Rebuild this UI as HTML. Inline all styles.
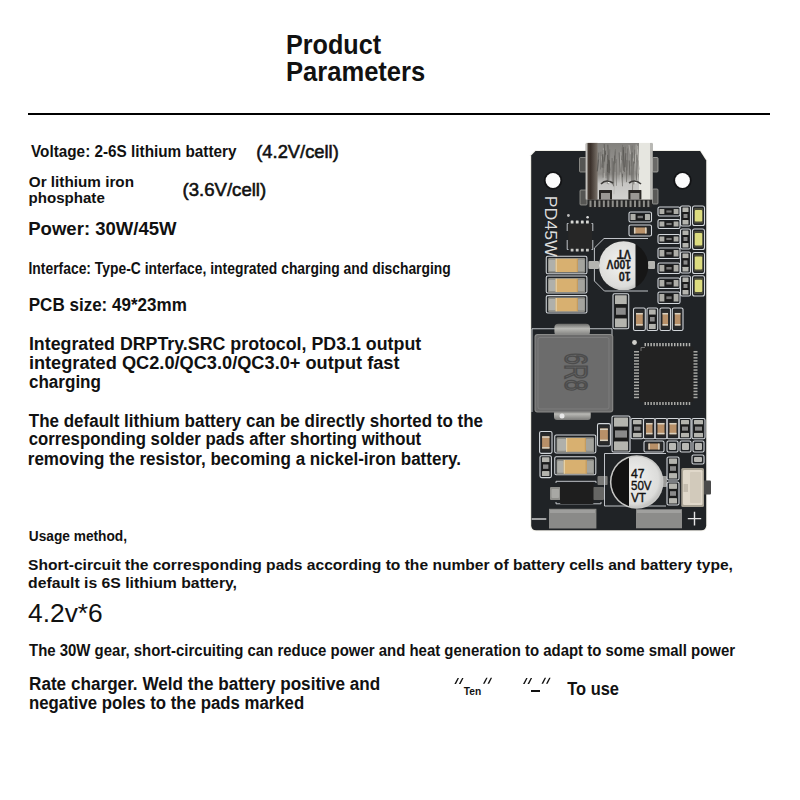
<!DOCTYPE html>
<html><head><meta charset="utf-8"><style>
html,body{margin:0;padding:0;background:#fff;width:800px;height:800px;overflow:hidden}
svg{display:block}
</style></head><body>
<svg width="800" height="800" viewBox="0 0 800 800" font-family="Liberation Sans">
<rect width="800" height="800" fill="#fff"/>
<rect x="28" y="113" width="742" height="2" fill="#000"/>
<g id="texts">
<text x="286.00" y="53.6" font-size="26.8" font-weight="bold" textLength="95.00" lengthAdjust="spacingAndGlyphs" fill="#111">Product</text>
<text x="286.00" y="81" font-size="26.8" font-weight="bold" textLength="139.25" lengthAdjust="spacingAndGlyphs" fill="#111">Parameters</text>
<text x="31.00" y="156.5" font-size="16.5" font-weight="bold" textLength="205.50" lengthAdjust="spacingAndGlyphs" fill="#111">Voltage: 2-6S lithium battery</text>
<text x="256.25" y="157.5" font-size="17.9" font-weight="normal" stroke="#111" stroke-width="0.55" textLength="82.55" lengthAdjust="spacingAndGlyphs" fill="#111">(4.2V/cell)</text>
<text x="28.75" y="186.5" font-size="15.4" font-weight="bold" textLength="105.25" lengthAdjust="spacingAndGlyphs" fill="#111">Or lithium iron</text>
<text x="28.50" y="203.25" font-size="15.2" font-weight="bold" textLength="76.30" lengthAdjust="spacingAndGlyphs" fill="#111">phosphate</text>
<text x="182.50" y="195.75" font-size="17.6" font-weight="normal" stroke="#111" stroke-width="0.55" textLength="83.70" lengthAdjust="spacingAndGlyphs" fill="#111">(3.6V/cell)</text>
<text x="28.25" y="234.5" font-size="18.4" font-weight="bold" textLength="148.35" lengthAdjust="spacingAndGlyphs" fill="#111">Power: 30W/45W</text>
<text x="28.50" y="273.5" font-size="15.6" font-weight="bold" textLength="422.30" lengthAdjust="spacingAndGlyphs" fill="#111">Interface: Type-C interface, integrated charging and discharging</text>
<text x="28.75" y="311.25" font-size="18.3" font-weight="bold" textLength="158.05" lengthAdjust="spacingAndGlyphs" fill="#111">PCB size: 49*23mm</text>
<text x="28.90" y="349.75" font-size="18.7" font-weight="bold" textLength="392.30" lengthAdjust="spacingAndGlyphs" fill="#111">Integrated DRPTry.SRC protocol, PD3.1 output</text>
<text x="28.90" y="369" font-size="18.7" font-weight="bold" textLength="370.60" lengthAdjust="spacingAndGlyphs" fill="#111">integrated QC2.0/QC3.0/QC3.0+ output fast</text>
<text x="28.90" y="387.8" font-size="18.7" font-weight="bold" textLength="72.10" lengthAdjust="spacingAndGlyphs" fill="#111">charging</text>
<text x="28.75" y="426.5" font-size="18.7" font-weight="bold" textLength="454.25" lengthAdjust="spacingAndGlyphs" fill="#111">The default lithium battery can be directly shorted to the</text>
<text x="28.75" y="445.2" font-size="18.7" font-weight="bold" textLength="392.45" lengthAdjust="spacingAndGlyphs" fill="#111">corresponding solder pads after shorting without</text>
<text x="27.75" y="464.6" font-size="18.7" font-weight="bold" textLength="433.25" lengthAdjust="spacingAndGlyphs" fill="#111">removing the resistor, becoming a nickel-iron battery.</text>
<text x="28.75" y="540.5" font-size="14.9" font-weight="bold" textLength="98.25" lengthAdjust="spacingAndGlyphs" fill="#111">Usage method,</text>
<text x="28.00" y="570.25" font-size="15.5" font-weight="bold" textLength="704.90" lengthAdjust="spacingAndGlyphs" fill="#111">Short-circuit the corresponding pads according to the number of battery cells and battery type,</text>
<text x="28.00" y="587.5" font-size="15.5" font-weight="bold" textLength="209.00" lengthAdjust="spacingAndGlyphs" fill="#111">default is 6S lithium battery,</text>
<text x="28.00" y="621.75" font-size="26.6" font-weight="normal" textLength="74.75" lengthAdjust="spacingAndGlyphs" fill="#111">4.2v*6</text>
<text x="29.00" y="656.25" font-size="16.1" font-weight="bold" textLength="706.10" lengthAdjust="spacingAndGlyphs" fill="#111">The 30W gear, short-circuiting can reduce power and heat generation to adapt to some small power</text>
<text x="29.00" y="689.75" font-size="18.0" font-weight="bold" textLength="351.20" lengthAdjust="spacingAndGlyphs" fill="#111">Rate charger. Weld the battery positive and</text>
<text x="29.00" y="708.75" font-size="18.0" font-weight="bold" textLength="275.20" lengthAdjust="spacingAndGlyphs" fill="#111">negative poles to the pads marked</text>
<text x="463.80" y="694.8" font-size="10.5" font-weight="bold" textLength="17.40" lengthAdjust="spacingAndGlyphs" fill="#111">Ten</text>
<text x="567.25" y="695" font-size="18.3" font-weight="bold" textLength="51.75" lengthAdjust="spacingAndGlyphs" fill="#111">To use</text>
<path d="M457.6,678 L459.0,678 L456.0,684 L454.4,684 Z M462.1,678 L463.5,678 L460.5,684 L458.9,684 Z " fill="#111"/>
<path d="M486.2,677.8 L487.6,677.8 L484.6,683.8 L483.0,683.8 Z M490.7,677.8 L492.1,677.8 L489.1,683.8 L487.5,683.8 Z " fill="#111"/>
<path d="M526.2,678 L527.6,678 L524.6,684 L523.0,684 Z M530.7,678 L532.1,678 L529.1,684 L527.5,684 Z " fill="#111"/>
<path d="M544.7,677.8 L546.1,677.8 L543.1,683.8 L541.5,683.8 Z M549.2,677.8 L550.6,677.8 L547.6,683.8 L546.0,683.8 Z " fill="#111"/>
<rect x="531" y="690" width="9" height="2" fill="#111"/>
</g>
<g id="pcb">
<defs><linearGradient id="usbg" x1="0" y1="0" x2="1" y2="0"><stop offset="0" stop-color="#3a3330"/><stop offset="0.17" stop-color="#5a5250"/><stop offset="0.22" stop-color="#8e8c88"/><stop offset="0.75" stop-color="#a8a8a4"/><stop offset="0.82" stop-color="#e6e6e0"/><stop offset="1" stop-color="#d0d0cc"/></linearGradient><linearGradient id="usbv" x1="0" y1="0" x2="0" y2="1"><stop offset="0" stop-color="#000000" stop-opacity="0.08"/><stop offset="0.55" stop-color="#ffffff" stop-opacity="0.0"/><stop offset="0.72" stop-color="#ffffff" stop-opacity="0.5"/><stop offset="1" stop-color="#ffffff" stop-opacity="0.6"/></linearGradient><linearGradient id="usbl" x1="0" y1="0" x2="1" y2="0"><stop offset="0" stop-color="#4a3e36"/><stop offset="0.3" stop-color="#3a302a"/><stop offset="1" stop-color="#7a726a"/></linearGradient><linearGradient id="indg" x1="0" y1="0" x2="1" y2="1"><stop offset="0" stop-color="#8a8a88"/><stop offset="1" stop-color="#6c6c6a"/></linearGradient><radialGradient id="capg" cx="0.45" cy="0.45" r="0.6"><stop offset="0" stop-color="#f2f2f0"/><stop offset="0.8" stop-color="#dcdcda"/><stop offset="1" stop-color="#b8b8b6"/></radialGradient><linearGradient id="termg" x1="0" y1="0" x2="0" y2="1"><stop offset="0" stop-color="#6a6a68"/><stop offset="0.4" stop-color="#b8b8b4"/><stop offset="1" stop-color="#7a7a78"/></linearGradient></defs>
<path d="M530,155.2 L535,150 L700.6,150 L707.2,160.2 L707.2,525 Q707.2,531.3 701,531.3 L536.2,531.3 Q530,531.3 530,525 Z" fill="#f2f1ea"/>
<path d="M531.2,155.5 L535.5,151 L700.1,151 L706.2,160.6 L706.2,525.3 Q706.2,530.3 701.2,530.3 L536.2,530.3 Q531.2,530.3 531.2,525.3 Z" fill="#202326"/>
<circle cx="553" cy="180.5" r="9.2" fill="#121315"/>
<circle cx="553" cy="180.5" r="7.4" fill="#fbfbfb"/>
<circle cx="682.5" cy="180.5" r="9.2" fill="#121315"/>
<circle cx="682.5" cy="180.5" r="7.4" fill="#fbfbfb"/>
<text x="0" y="0" font-family="Liberation Sans" font-weight="normal" font-size="17" fill="#dcdcdc" transform="translate(544.6,195.8) rotate(90)" textLength="61" lengthAdjust="spacingAndGlyphs">PD45W</text>
<rect x="579.50" y="157.50" width="7.00" height="14.50" rx="1" fill="#555553" stroke="#9a9a96" stroke-width="0.8"/>
<rect x="580.00" y="190.00" width="7.00" height="15.00" rx="1" fill="#555553" stroke="#9a9a96" stroke-width="0.8"/>
<rect x="652.50" y="157.50" width="5.50" height="14.50" rx="1" fill="#6a6a68" stroke="#b0b0ac" stroke-width="0.8"/>
<rect x="652.50" y="189.00" width="5.50" height="15.00" rx="1" fill="#5a5a58" stroke="#a0a09c" stroke-width="0.8"/>
<rect x="588.00" y="199.00" width="64.00" height="8.50" rx="0" fill="#262626" />
<rect x="589.50" y="200.50" width="2.00" height="6.50" rx="0" fill="#8e8e8a" />
<rect x="593.95" y="200.50" width="2.00" height="6.50" rx="0" fill="#8e8e8a" />
<rect x="598.40" y="200.50" width="2.00" height="6.50" rx="0" fill="#8e8e8a" />
<rect x="602.85" y="200.50" width="2.00" height="6.50" rx="0" fill="#8e8e8a" />
<rect x="607.30" y="200.50" width="2.00" height="6.50" rx="0" fill="#8e8e8a" />
<rect x="611.75" y="200.50" width="2.00" height="6.50" rx="0" fill="#8e8e8a" />
<rect x="616.20" y="200.50" width="2.00" height="6.50" rx="0" fill="#8e8e8a" />
<rect x="620.65" y="200.50" width="2.00" height="6.50" rx="0" fill="#8e8e8a" />
<rect x="625.10" y="200.50" width="2.00" height="6.50" rx="0" fill="#8e8e8a" />
<rect x="629.55" y="200.50" width="2.00" height="6.50" rx="0" fill="#8e8e8a" />
<rect x="634.00" y="200.50" width="2.00" height="6.50" rx="0" fill="#8e8e8a" />
<rect x="638.45" y="200.50" width="2.00" height="6.50" rx="0" fill="#8e8e8a" />
<rect x="642.90" y="200.50" width="2.00" height="6.50" rx="0" fill="#8e8e8a" />
<rect x="647.35" y="200.50" width="2.00" height="6.50" rx="0" fill="#8e8e8a" />
<rect x="585.70" y="142.90" width="66.90" height="56.60" rx="1.5" fill="#8e8c88" />
<rect x="585.70" y="142.90" width="1.90" height="56.60" rx="0" fill="#c2c0bc" />
<rect x="587.6" y="142.9" width="10" height="56.6" fill="url(#usbl)"/>
<rect x="639.00" y="142.90" width="11.50" height="56.60" rx="0" fill="#e6e6e0" />
<rect x="650.50" y="142.90" width="2.10" height="56.60" rx="0" fill="#b8b8b4" />
<rect x="597.6" y="142.9" width="41.4" height="56.6" fill="url(#usbv)"/>
<line x1="607.5" y1="154.9" x2="607.4" y2="172.1" stroke="#4e4c48" stroke-width="1" opacity="0.6"/>
<line x1="621.2" y1="156.1" x2="620.5" y2="186.8" stroke="#c8c6c0" stroke-width="1" opacity="0.6"/>
<line x1="607.4" y1="163.9" x2="607.3" y2="183.7" stroke="#4e4c48" stroke-width="1" opacity="0.6"/>
<line x1="623.6" y1="147.0" x2="623.2" y2="170.9" stroke="#4e4c48" stroke-width="1" opacity="0.6"/>
<line x1="598.6" y1="159.5" x2="597.2" y2="171.5" stroke="#4e4c48" stroke-width="1" opacity="0.6"/>
<line x1="629.2" y1="160.5" x2="629.9" y2="175.2" stroke="#4e4c48" stroke-width="1" opacity="0.6"/>
<line x1="633.2" y1="158.3" x2="633.8" y2="189.3" stroke="#c8c6c0" stroke-width="1" opacity="0.6"/>
<line x1="621.1" y1="163.3" x2="619.9" y2="174.6" stroke="#6a6864" stroke-width="1" opacity="0.6"/>
<line x1="603.4" y1="148.3" x2="604.3" y2="180.5" stroke="#c8c6c0" stroke-width="1" opacity="0.6"/>
<line x1="632.2" y1="152.4" x2="631.8" y2="181.3" stroke="#4e4c48" stroke-width="1" opacity="0.6"/>
<line x1="621.4" y1="155.7" x2="622.5" y2="186.3" stroke="#5a5854" stroke-width="1" opacity="0.6"/>
<line x1="637.6" y1="157.4" x2="639.0" y2="169.5" stroke="#6a6864" stroke-width="1" opacity="0.6"/>
<line x1="634.2" y1="155.4" x2="634.6" y2="181.2" stroke="#b4b2ae" stroke-width="1" opacity="0.6"/>
<line x1="637.5" y1="149.3" x2="638.6" y2="160.5" stroke="#c8c6c0" stroke-width="1" opacity="0.6"/>
<line x1="637.6" y1="145.8" x2="638.8" y2="173.8" stroke="#c8c6c0" stroke-width="1" opacity="0.6"/>
<line x1="598.8" y1="152.5" x2="597.4" y2="170.9" stroke="#5a5854" stroke-width="1" opacity="0.6"/>
<line x1="622.6" y1="144.9" x2="622.7" y2="170.9" stroke="#6a6864" stroke-width="1" opacity="0.6"/>
<line x1="634.9" y1="149.6" x2="634.3" y2="163.5" stroke="#5a5854" stroke-width="1" opacity="0.6"/>
<line x1="601.1" y1="156.0" x2="602.5" y2="164.8" stroke="#b4b2ae" stroke-width="1" opacity="0.6"/>
<line x1="609.7" y1="149.3" x2="609.1" y2="174.5" stroke="#6a6864" stroke-width="1" opacity="0.6"/>
<line x1="636.3" y1="161.9" x2="637.5" y2="179.4" stroke="#c8c6c0" stroke-width="1" opacity="0.6"/>
<line x1="613.4" y1="161.3" x2="613.8" y2="186.4" stroke="#5a5854" stroke-width="1" opacity="0.6"/>
<line x1="635.6" y1="154.1" x2="636.9" y2="172.9" stroke="#b4b2ae" stroke-width="1" opacity="0.6"/>
<line x1="615.5" y1="149.2" x2="614.0" y2="164.7" stroke="#6a6864" stroke-width="1" opacity="0.6"/>
<line x1="614.6" y1="155.6" x2="614.9" y2="164.1" stroke="#4e4c48" stroke-width="1" opacity="0.6"/>
<line x1="603.3" y1="156.7" x2="603.9" y2="173.0" stroke="#6a6864" stroke-width="1" opacity="0.6"/>
<line x1="612.1" y1="158.1" x2="612.4" y2="184.6" stroke="#5a5854" stroke-width="1" opacity="0.6"/>
<line x1="636.2" y1="144.4" x2="635.6" y2="161.7" stroke="#c8c6c0" stroke-width="1" opacity="0.6"/>
<line x1="622.1" y1="147.5" x2="623.1" y2="160.2" stroke="#6a6864" stroke-width="1" opacity="0.6"/>
<line x1="608.6" y1="159.7" x2="610.0" y2="170.4" stroke="#5a5854" stroke-width="1" opacity="0.6"/>
<line x1="625.3" y1="146.6" x2="624.6" y2="167.1" stroke="#6a6864" stroke-width="1" opacity="0.6"/>
<line x1="605.5" y1="152.7" x2="605.8" y2="178.2" stroke="#5a5854" stroke-width="1" opacity="0.6"/>
<line x1="636.0" y1="157.5" x2="634.7" y2="171.1" stroke="#b4b2ae" stroke-width="1" opacity="0.6"/>
<line x1="627.7" y1="148.4" x2="626.9" y2="170.6" stroke="#6a6864" stroke-width="1" opacity="0.6"/>
<line x1="602.8" y1="154.6" x2="601.9" y2="167.4" stroke="#4e4c48" stroke-width="1" opacity="0.6"/>
<line x1="609.1" y1="160.1" x2="608.7" y2="184.2" stroke="#4e4c48" stroke-width="1" opacity="0.6"/>
<line x1="603.2" y1="149.8" x2="603.1" y2="177.7" stroke="#6a6864" stroke-width="1" opacity="0.6"/>
<line x1="623.4" y1="149.8" x2="624.6" y2="172.0" stroke="#5a5854" stroke-width="1" opacity="0.6"/>
<line x1="604.2" y1="144.1" x2="605.7" y2="175.7" stroke="#4e4c48" stroke-width="1" opacity="0.6"/>
<line x1="615.4" y1="163.0" x2="614.0" y2="194.2" stroke="#b4b2ae" stroke-width="1" opacity="0.6"/>
<line x1="616.3" y1="159.1" x2="616.4" y2="185.8" stroke="#6a6864" stroke-width="1" opacity="0.6"/>
<line x1="633.6" y1="161.2" x2="632.4" y2="190.7" stroke="#6a6864" stroke-width="1" opacity="0.6"/>
<line x1="607.8" y1="144.7" x2="609.1" y2="172.8" stroke="#4e4c48" stroke-width="1" opacity="0.6"/>
<line x1="633.9" y1="162.0" x2="633.8" y2="184.4" stroke="#5a5854" stroke-width="1" opacity="0.6"/>
<line x1="602.8" y1="154.1" x2="602.9" y2="168.0" stroke="#5a5854" stroke-width="1" opacity="0.6"/>
<line x1="614.6" y1="162.8" x2="613.4" y2="186.1" stroke="#6a6864" stroke-width="1" opacity="0.6"/>
<line x1="636.9" y1="154.8" x2="636.4" y2="183.1" stroke="#5a5854" stroke-width="1" opacity="0.6"/>
<line x1="605.9" y1="154.7" x2="605.1" y2="183.1" stroke="#b4b2ae" stroke-width="1" opacity="0.6"/>
<line x1="609.0" y1="161.8" x2="608.9" y2="173.0" stroke="#5a5854" stroke-width="1" opacity="0.6"/>
<line x1="620.8" y1="152.0" x2="620.1" y2="178.9" stroke="#b4b2ae" stroke-width="1" opacity="0.6"/>
<line x1="619.1" y1="152.5" x2="620.2" y2="172.3" stroke="#5a5854" stroke-width="1" opacity="0.6"/>
<line x1="629.0" y1="144.9" x2="630.4" y2="154.2" stroke="#c8c6c0" stroke-width="1" opacity="0.6"/>
<line x1="632.2" y1="145.7" x2="631.1" y2="166.3" stroke="#6a6864" stroke-width="1" opacity="0.6"/>
<line x1="600.9" y1="151.7" x2="600.5" y2="169.5" stroke="#6a6864" stroke-width="1" opacity="0.6"/>
<line x1="605.6" y1="150.6" x2="604.2" y2="161.7" stroke="#4e4c48" stroke-width="1" opacity="0.6"/>
<line x1="626.9" y1="159.9" x2="626.5" y2="182.1" stroke="#5a5854" stroke-width="1" opacity="0.6"/>
<line x1="622.2" y1="159.7" x2="622.5" y2="177.2" stroke="#5a5854" stroke-width="1" opacity="0.6"/>
<line x1="615.3" y1="151.4" x2="615.0" y2="171.9" stroke="#6a6864" stroke-width="1" opacity="0.6"/>
<line x1="625.8" y1="153.2" x2="625.1" y2="167.3" stroke="#4e4c48" stroke-width="1" opacity="0.6"/>
<line x1="621.6" y1="160.1" x2="622.7" y2="173.7" stroke="#b4b2ae" stroke-width="1" opacity="0.6"/>
<rect x="599.00" y="190.00" width="13.00" height="9.50" rx="0.5" fill="#2a2826" />
<rect x="628.40" y="190.00" width="13.00" height="9.50" rx="0.5" fill="#2a2826" />
<rect x="601.00" y="193.00" width="9.00" height="6.50" rx="0" fill="#9a9894" />
<rect x="630.40" y="193.00" width="9.00" height="6.50" rx="0" fill="#9a9894" />
<circle cx="609" cy="182" r="1.4" fill="#f4f4f0"/><circle cx="636" cy="182" r="1.4" fill="#f4f4f0"/>
<path d="M601,184 Q606,178.5 613,183 M629,183 Q635,178.5 641,184" stroke="#3e3c3a" stroke-width="1.6" fill="none"/>
<rect x="570.70" y="220.50" width="2.80" height="3.50" rx="0.5" fill="#d8d8d4" />
<rect x="570.70" y="248.00" width="2.80" height="3.50" rx="0.5" fill="#c8c8c4" />
<rect x="575.80" y="220.50" width="2.80" height="3.50" rx="0.5" fill="#d8d8d4" />
<rect x="575.80" y="248.00" width="2.80" height="3.50" rx="0.5" fill="#c8c8c4" />
<rect x="580.90" y="220.50" width="2.80" height="3.50" rx="0.5" fill="#d8d8d4" />
<rect x="580.90" y="248.00" width="2.80" height="3.50" rx="0.5" fill="#c8c8c4" />
<rect x="586.00" y="220.50" width="2.80" height="3.50" rx="0.5" fill="#d8d8d4" />
<rect x="586.00" y="248.00" width="2.80" height="3.50" rx="0.5" fill="#c8c8c4" />
<rect x="568.20" y="223.50" width="23.80" height="25.30" rx="1" fill="#262626" />
<path d="M567.2,231 L567.2,223.5 L568.5,223.5 M567.2,240 L567.2,249.5 L568.5,249.5 M592.8,231 L592.8,223.5 L591.5,223.5 M592.8,240 L592.8,249.5 L591.5,249.5" stroke="#d2d6da" stroke-width="0.9" fill="none"/>
<circle cx="568.4" cy="215.5" r="1.4" fill="#bbb"/><circle cx="587.6" cy="217.3" r="1.3" fill="#ddd"/>
<rect x="629.00" y="212.00" width="22.50" height="10.00" rx="1.6" fill="none" stroke="#d2d6da" stroke-width="1.1"/>
<rect x="630.50" y="214.00" width="5.25" height="6.00" rx="0.6" fill="#aeaea8" />
<rect x="644.75" y="214.00" width="5.25" height="6.00" rx="0.6" fill="#aeaea8" />
<rect x="635.75" y="214.00" width="9.00" height="6.00" rx="0" fill="#1a1a1a" />
<rect x="637.55" y="215.80" width="5.40" height="2.40" rx="0" fill="#777" />
<rect x="629.00" y="225.00" width="22.50" height="11.00" rx="1.6" fill="none" stroke="#d2d6da" stroke-width="1.1"/>
<rect x="631.00" y="226.50" width="18.50" height="8.00" rx="1" fill="#2a2a2a" />
<rect x="633.95" y="227.50" width="12.60" height="6.00" rx="0.6" fill="#b89068" />
<rect x="633.95" y="227.50" width="1.50" height="6.00" rx="0" fill="#d8d0c0" />
<rect x="645.05" y="227.50" width="1.50" height="6.00" rx="0" fill="#d8d0c0" />
<path d="M648,238.5 L604,238.5 L594.4,248 L594.4,281 L604.4,291 L648,291" fill="none" stroke="#d2d6da" stroke-width="0.9"/>
<rect x="588.50" y="261.00" width="10.50" height="8.00" rx="1" fill="#b4b4b0" />
<rect x="648.00" y="261.00" width="7.00" height="8.00" rx="1" fill="#b4b4b0" />
<circle cx="623.6" cy="265.75" r="24.6" fill="#161616"/>
<clipPath id="c1"><rect x="590" y="230" width="45.5" height="70"/></clipPath>
<circle cx="623.6" cy="265.75" r="24.6" fill="url(#capg)" clip-path="url(#c1)"/>
<g transform="translate(620,265.5) rotate(180)" font-family="Liberation Sans" font-weight="bold" fill="#1a1a1a" stroke="#1a1a1a" stroke-width="0.3" font-size="13"><text x="-10.7" y="-6.2" textLength="12" lengthAdjust="spacingAndGlyphs">10</text><text x="-11" y="5.5" textLength="24.4" lengthAdjust="spacingAndGlyphs">100V</text><text x="-11" y="15.5" textLength="14" lengthAdjust="spacingAndGlyphs">VT</text></g>
<rect x="658.00" y="207.00" width="22.00" height="9.00" rx="1.6" fill="none" stroke="#d2d6da" stroke-width="1.1"/>
<rect x="659.50" y="209.00" width="5.10" height="5.00" rx="0.6" fill="#aeaea8" />
<rect x="673.40" y="209.00" width="5.10" height="5.00" rx="0.6" fill="#aeaea8" />
<rect x="664.60" y="209.00" width="8.80" height="5.00" rx="0" fill="#1a1a1a" />
<rect x="666.36" y="210.42" width="5.28" height="2.16" rx="0" fill="#777" />
<rect x="658.00" y="219.50" width="22.00" height="9.00" rx="1.6" fill="none" stroke="#d2d6da" stroke-width="1.1"/>
<rect x="659.50" y="221.50" width="5.10" height="5.00" rx="0.6" fill="#aeaea8" />
<rect x="673.40" y="221.50" width="5.10" height="5.00" rx="0.6" fill="#aeaea8" />
<rect x="664.60" y="221.50" width="8.80" height="5.00" rx="0" fill="#1a1a1a" />
<rect x="666.36" y="222.92" width="5.28" height="2.16" rx="0" fill="#777" />
<rect x="658.00" y="234.50" width="22.00" height="9.00" rx="1.6" fill="none" stroke="#d2d6da" stroke-width="1.1"/>
<rect x="659.50" y="236.50" width="5.10" height="5.00" rx="0.6" fill="#aeaea8" />
<rect x="673.40" y="236.50" width="5.10" height="5.00" rx="0.6" fill="#aeaea8" />
<rect x="664.60" y="236.50" width="8.80" height="5.00" rx="0" fill="#1a1a1a" />
<rect x="666.36" y="237.92" width="5.28" height="2.16" rx="0" fill="#777" />
<rect x="658.00" y="248.00" width="22.00" height="10.50" rx="1.6" fill="none" stroke="#d2d6da" stroke-width="1.1"/>
<rect x="659.50" y="250.00" width="5.10" height="6.50" rx="0.6" fill="#aeaea8" />
<rect x="673.40" y="250.00" width="5.10" height="6.50" rx="0.6" fill="#aeaea8" />
<rect x="664.60" y="250.00" width="8.80" height="6.50" rx="0" fill="#1a1a1a" />
<rect x="666.36" y="251.99" width="5.28" height="2.52" rx="0" fill="#777" />
<rect x="658.00" y="263.00" width="22.00" height="10.50" rx="1.6" fill="none" stroke="#d2d6da" stroke-width="1.1"/>
<rect x="659.50" y="265.00" width="5.10" height="6.50" rx="0.6" fill="#aeaea8" />
<rect x="673.40" y="265.00" width="5.10" height="6.50" rx="0.6" fill="#aeaea8" />
<rect x="664.60" y="265.00" width="8.80" height="6.50" rx="0" fill="#1a1a1a" />
<rect x="666.36" y="266.99" width="5.28" height="2.52" rx="0" fill="#777" />
<rect x="658.00" y="278.00" width="22.00" height="10.50" rx="1.6" fill="none" stroke="#d2d6da" stroke-width="1.1"/>
<rect x="659.50" y="280.00" width="5.10" height="6.50" rx="0.6" fill="#aeaea8" />
<rect x="673.40" y="280.00" width="5.10" height="6.50" rx="0.6" fill="#aeaea8" />
<rect x="664.60" y="280.00" width="8.80" height="6.50" rx="0" fill="#1a1a1a" />
<rect x="666.36" y="281.99" width="5.28" height="2.52" rx="0" fill="#777" />
<rect x="658.00" y="292.00" width="22.00" height="11.50" rx="1.6" fill="none" stroke="#d2d6da" stroke-width="1.1"/>
<rect x="659.50" y="294.00" width="5.10" height="7.50" rx="0.6" fill="#aeaea8" />
<rect x="673.40" y="294.00" width="5.10" height="7.50" rx="0.6" fill="#aeaea8" />
<rect x="664.60" y="294.00" width="8.80" height="7.50" rx="0" fill="#1a1a1a" />
<rect x="666.36" y="296.37" width="5.28" height="2.76" rx="0" fill="#777" />
<rect x="680.50" y="206.00" width="10.00" height="20.00" rx="1.6" fill="none" stroke="#d2d6da" stroke-width="1.1"/>
<rect x="682.50" y="207.50" width="6.00" height="4.50" rx="0.6" fill="#b4b4ae" />
<rect x="682.50" y="220.00" width="6.00" height="4.50" rx="0.6" fill="#b4b4ae" />
<rect x="682.50" y="212.00" width="6.00" height="8.00" rx="0" fill="#1a1a1a" />
<rect x="683.50" y="214.00" width="4.00" height="4.00" rx="0" fill="#8a8a8a" />
<rect x="680.50" y="229.00" width="10.00" height="20.00" rx="1.6" fill="none" stroke="#d2d6da" stroke-width="1.1"/>
<rect x="682.50" y="230.50" width="6.00" height="4.50" rx="0.6" fill="#b4b4ae" />
<rect x="682.50" y="243.00" width="6.00" height="4.50" rx="0.6" fill="#b4b4ae" />
<rect x="682.50" y="235.00" width="6.00" height="8.00" rx="0" fill="#1a1a1a" />
<rect x="683.50" y="237.00" width="4.00" height="4.00" rx="0" fill="#8a8a8a" />
<rect x="680.50" y="252.00" width="10.00" height="21.00" rx="1.6" fill="none" stroke="#d2d6da" stroke-width="1.1"/>
<rect x="682.50" y="253.50" width="6.00" height="4.80" rx="0.6" fill="#b4b4ae" />
<rect x="682.50" y="266.70" width="6.00" height="4.80" rx="0.6" fill="#b4b4ae" />
<rect x="682.50" y="258.30" width="6.00" height="8.40" rx="0" fill="#1a1a1a" />
<rect x="683.50" y="260.40" width="4.00" height="4.20" rx="0" fill="#8a8a8a" />
<rect x="680.50" y="276.00" width="10.00" height="20.00" rx="1.6" fill="none" stroke="#d2d6da" stroke-width="1.1"/>
<rect x="682.50" y="277.50" width="6.00" height="4.50" rx="0.6" fill="#b4b4ae" />
<rect x="682.50" y="290.00" width="6.00" height="4.50" rx="0.6" fill="#b4b4ae" />
<rect x="682.50" y="282.00" width="6.00" height="8.00" rx="0" fill="#1a1a1a" />
<rect x="683.50" y="284.00" width="4.00" height="4.00" rx="0" fill="#8a8a8a" />
<rect x="692.50" y="206.00" width="12.00" height="19.50" rx="2" fill="none" stroke="#d2d6da" stroke-width="1.1"/>
<rect x="694.00" y="208.00" width="9.00" height="15.50" rx="1" fill="#4a4a3a" />
<rect x="694.80" y="210.00" width="7.40" height="11.50" rx="1" fill="#dcdc80" />
<rect x="692.50" y="229.00" width="12.00" height="20.50" rx="2" fill="none" stroke="#d2d6da" stroke-width="1.1"/>
<rect x="694.00" y="231.00" width="9.00" height="16.50" rx="1" fill="#4a4a3a" />
<rect x="694.80" y="233.00" width="7.40" height="12.50" rx="1" fill="#dcdc80" />
<rect x="692.50" y="252.50" width="12.00" height="21.00" rx="2" fill="none" stroke="#d2d6da" stroke-width="1.1"/>
<rect x="694.00" y="254.50" width="9.00" height="17.00" rx="1" fill="#4a4a3a" />
<rect x="694.80" y="256.50" width="7.40" height="13.00" rx="1" fill="#dcdc80" />
<rect x="692.50" y="275.75" width="12.00" height="20.25" rx="2" fill="none" stroke="#d2d6da" stroke-width="1.1"/>
<rect x="694.00" y="277.75" width="9.00" height="16.25" rx="1" fill="#4a4a3a" />
<rect x="694.80" y="279.75" width="7.40" height="12.25" rx="1" fill="#dcdc80" />
<rect x="546.25" y="256.25" width="40.65" height="17.50" rx="1.5" fill="none" stroke="#d2d6da" stroke-width="1.1"/>
<rect x="548.05" y="257.95" width="37.05" height="14.75" rx="1.2" fill="#8e8e88" />
<rect x="548.75" y="259.75" width="6.85" height="11.15" rx="1" fill="#b0b0aa" />
<rect x="578.00" y="259.75" width="6.40" height="11.15" rx="1" fill="#a4a49e" />
<rect x="555.60" y="258.75" width="22.40" height="13.15" rx="0.8" fill="#d8b070" />
<rect x="555.60" y="258.75" width="1.20" height="13.15" rx="0" fill="#e6d2a8" />
<rect x="576.80" y="258.75" width="1.20" height="13.15" rx="0" fill="#c49c60" />
<rect x="546.25" y="276.00" width="40.65" height="17.00" rx="1.5" fill="none" stroke="#d2d6da" stroke-width="1.1"/>
<rect x="548.05" y="277.95" width="37.05" height="14.75" rx="1.2" fill="#8e8e88" />
<rect x="548.75" y="279.75" width="6.85" height="11.15" rx="1" fill="#b0b0aa" />
<rect x="578.00" y="279.75" width="6.40" height="11.15" rx="1" fill="#a4a49e" />
<rect x="555.60" y="278.75" width="22.40" height="13.15" rx="0.8" fill="#d8b070" />
<rect x="555.60" y="278.75" width="1.20" height="13.15" rx="0" fill="#e6d2a8" />
<rect x="576.80" y="278.75" width="1.20" height="13.15" rx="0" fill="#c49c60" />
<rect x="546.25" y="295.60" width="40.65" height="17.40" rx="1.5" fill="none" stroke="#d2d6da" stroke-width="1.1"/>
<rect x="548.05" y="297.20" width="37.05" height="14.85" rx="1.2" fill="#8e8e88" />
<rect x="548.75" y="299.00" width="6.85" height="11.25" rx="1" fill="#b0b0aa" />
<rect x="578.00" y="299.00" width="6.40" height="11.25" rx="1" fill="#a4a49e" />
<rect x="555.60" y="298.00" width="22.40" height="13.25" rx="0.8" fill="#d8b070" />
<rect x="555.60" y="298.00" width="1.20" height="13.25" rx="0" fill="#e6d2a8" />
<rect x="576.80" y="298.00" width="1.20" height="13.25" rx="0" fill="#c49c60" />
<rect x="613.00" y="293.75" width="15.75" height="35.00" rx="1.6" fill="none" stroke="#d2d6da" stroke-width="1.1"/>
<rect x="615.00" y="295.25" width="11.75" height="9.00" rx="0.6" fill="#b4b4ae" />
<rect x="615.00" y="318.25" width="11.75" height="9.00" rx="0.6" fill="#b4b4ae" />
<rect x="615.00" y="304.25" width="11.75" height="14.00" rx="0" fill="#1a1a1a" />
<rect x="616.00" y="307.75" width="9.75" height="7.00" rx="0" fill="#8a8a8a" />
<rect x="633.50" y="308.00" width="11.80" height="22.50" rx="1.6" fill="none" stroke="#d2d6da" stroke-width="1.1"/>
<rect x="635.00" y="310.00" width="8.80" height="18.50" rx="1" fill="#2a2a2a" />
<rect x="636.00" y="312.95" width="6.80" height="12.60" rx="0.6" fill="#b89068" />
<rect x="636.00" y="312.95" width="6.80" height="1.50" rx="0" fill="#d8d0c0" />
<rect x="636.00" y="324.05" width="6.80" height="1.50" rx="0" fill="#d8d0c0" />
<rect x="647.00" y="308.00" width="10.70" height="22.50" rx="1.6" fill="none" stroke="#d2d6da" stroke-width="1.1"/>
<rect x="649.00" y="309.50" width="6.70" height="5.25" rx="0.6" fill="#b4b4ae" />
<rect x="649.00" y="323.75" width="6.70" height="5.25" rx="0.6" fill="#b4b4ae" />
<rect x="649.00" y="314.75" width="6.70" height="9.00" rx="0" fill="#1a1a1a" />
<rect x="650.00" y="317.00" width="4.70" height="4.50" rx="0" fill="#8a8a8a" />
<rect x="660.00" y="308.00" width="10.50" height="22.50" rx="1.6" fill="none" stroke="#d2d6da" stroke-width="1.1"/>
<rect x="661.50" y="310.00" width="7.50" height="18.50" rx="1" fill="#2a2a2a" />
<rect x="662.50" y="312.95" width="5.50" height="12.60" rx="0.6" fill="#b89068" />
<rect x="662.50" y="312.95" width="5.50" height="1.50" rx="0" fill="#d8d0c0" />
<rect x="662.50" y="324.05" width="5.50" height="1.50" rx="0" fill="#d8d0c0" />
<rect x="672.30" y="308.00" width="10.70" height="22.50" rx="1.6" fill="none" stroke="#d2d6da" stroke-width="1.1"/>
<rect x="673.80" y="310.00" width="7.70" height="18.50" rx="1" fill="#2a2a2a" />
<rect x="674.80" y="312.95" width="5.70" height="12.60" rx="0.6" fill="#b89068" />
<rect x="674.80" y="312.95" width="5.70" height="1.50" rx="0" fill="#d8d0c0" />
<rect x="674.80" y="324.05" width="5.70" height="1.50" rx="0" fill="#d8d0c0" />
<path d="M532,412 L532,328.75 L612,328.75 L612,350" fill="none" stroke="#d2d6da" stroke-width="0.9"/>
<rect x="554.4" y="323.75" width="35.6" height="12" rx="4" fill="url(#termg)"/>
<rect x="554" y="410" width="36.75" height="10" rx="3" fill="url(#termg)"/>
<circle cx="562" cy="416" r="2.5" fill="#e8e8e8"/>
<rect x="534.50" y="334.00" width="78.75" height="78.50" rx="3" fill="#8a8a88" />
<rect x="535.50" y="335.00" width="76.75" height="76.50" rx="2.5" fill="#6c6c6c" />
<rect x="538" y="337.5" width="71" height="71.5" rx="2" fill="none" stroke="#808080" stroke-width="0.8"/>
<g transform="translate(576,372) rotate(90)" font-family="Liberation Sans" font-size="31" font-weight="normal" fill="none" stroke="#4c4c4c" stroke-width="1.8"><text x="-19" y="11" textLength="38" lengthAdjust="spacingAndGlyphs">6R8</text></g>
<circle cx="634.5" cy="342.5" r="2.4" fill="#d0d0cc"/>
<rect x="644.50" y="343.00" width="1.50" height="3.50" rx="0" fill="#b4b4b0" />
<rect x="644.50" y="401.50" width="1.50" height="3.50" rx="0" fill="#a8a8a4" />
<rect x="634.00" y="351.00" width="5.00" height="1.50" rx="0" fill="#a8a8a4" />
<rect x="693.00" y="351.00" width="4.50" height="1.50" rx="0" fill="#a8a8a4" />
<rect x="647.45" y="343.00" width="1.50" height="3.50" rx="0" fill="#b4b4b0" />
<rect x="647.45" y="401.50" width="1.50" height="3.50" rx="0" fill="#a8a8a4" />
<rect x="634.00" y="354.05" width="5.00" height="1.50" rx="0" fill="#a8a8a4" />
<rect x="693.00" y="354.05" width="4.50" height="1.50" rx="0" fill="#a8a8a4" />
<rect x="650.40" y="343.00" width="1.50" height="3.50" rx="0" fill="#b4b4b0" />
<rect x="650.40" y="401.50" width="1.50" height="3.50" rx="0" fill="#a8a8a4" />
<rect x="634.00" y="357.10" width="5.00" height="1.50" rx="0" fill="#a8a8a4" />
<rect x="693.00" y="357.10" width="4.50" height="1.50" rx="0" fill="#a8a8a4" />
<rect x="653.35" y="343.00" width="1.50" height="3.50" rx="0" fill="#b4b4b0" />
<rect x="653.35" y="401.50" width="1.50" height="3.50" rx="0" fill="#a8a8a4" />
<rect x="634.00" y="360.15" width="5.00" height="1.50" rx="0" fill="#a8a8a4" />
<rect x="693.00" y="360.15" width="4.50" height="1.50" rx="0" fill="#a8a8a4" />
<rect x="656.30" y="343.00" width="1.50" height="3.50" rx="0" fill="#b4b4b0" />
<rect x="656.30" y="401.50" width="1.50" height="3.50" rx="0" fill="#a8a8a4" />
<rect x="634.00" y="363.20" width="5.00" height="1.50" rx="0" fill="#a8a8a4" />
<rect x="693.00" y="363.20" width="4.50" height="1.50" rx="0" fill="#a8a8a4" />
<rect x="659.25" y="343.00" width="1.50" height="3.50" rx="0" fill="#b4b4b0" />
<rect x="659.25" y="401.50" width="1.50" height="3.50" rx="0" fill="#a8a8a4" />
<rect x="634.00" y="366.25" width="5.00" height="1.50" rx="0" fill="#a8a8a4" />
<rect x="693.00" y="366.25" width="4.50" height="1.50" rx="0" fill="#a8a8a4" />
<rect x="662.20" y="343.00" width="1.50" height="3.50" rx="0" fill="#b4b4b0" />
<rect x="662.20" y="401.50" width="1.50" height="3.50" rx="0" fill="#a8a8a4" />
<rect x="634.00" y="369.30" width="5.00" height="1.50" rx="0" fill="#a8a8a4" />
<rect x="693.00" y="369.30" width="4.50" height="1.50" rx="0" fill="#a8a8a4" />
<rect x="665.15" y="343.00" width="1.50" height="3.50" rx="0" fill="#b4b4b0" />
<rect x="665.15" y="401.50" width="1.50" height="3.50" rx="0" fill="#a8a8a4" />
<rect x="634.00" y="372.35" width="5.00" height="1.50" rx="0" fill="#a8a8a4" />
<rect x="693.00" y="372.35" width="4.50" height="1.50" rx="0" fill="#a8a8a4" />
<rect x="668.10" y="343.00" width="1.50" height="3.50" rx="0" fill="#b4b4b0" />
<rect x="668.10" y="401.50" width="1.50" height="3.50" rx="0" fill="#a8a8a4" />
<rect x="634.00" y="375.40" width="5.00" height="1.50" rx="0" fill="#a8a8a4" />
<rect x="693.00" y="375.40" width="4.50" height="1.50" rx="0" fill="#a8a8a4" />
<rect x="671.05" y="343.00" width="1.50" height="3.50" rx="0" fill="#b4b4b0" />
<rect x="671.05" y="401.50" width="1.50" height="3.50" rx="0" fill="#a8a8a4" />
<rect x="634.00" y="378.45" width="5.00" height="1.50" rx="0" fill="#a8a8a4" />
<rect x="693.00" y="378.45" width="4.50" height="1.50" rx="0" fill="#a8a8a4" />
<rect x="674.00" y="343.00" width="1.50" height="3.50" rx="0" fill="#b4b4b0" />
<rect x="674.00" y="401.50" width="1.50" height="3.50" rx="0" fill="#a8a8a4" />
<rect x="634.00" y="381.50" width="5.00" height="1.50" rx="0" fill="#a8a8a4" />
<rect x="693.00" y="381.50" width="4.50" height="1.50" rx="0" fill="#a8a8a4" />
<rect x="676.95" y="343.00" width="1.50" height="3.50" rx="0" fill="#b4b4b0" />
<rect x="676.95" y="401.50" width="1.50" height="3.50" rx="0" fill="#a8a8a4" />
<rect x="634.00" y="384.55" width="5.00" height="1.50" rx="0" fill="#a8a8a4" />
<rect x="693.00" y="384.55" width="4.50" height="1.50" rx="0" fill="#a8a8a4" />
<rect x="679.90" y="343.00" width="1.50" height="3.50" rx="0" fill="#b4b4b0" />
<rect x="679.90" y="401.50" width="1.50" height="3.50" rx="0" fill="#a8a8a4" />
<rect x="634.00" y="387.60" width="5.00" height="1.50" rx="0" fill="#a8a8a4" />
<rect x="693.00" y="387.60" width="4.50" height="1.50" rx="0" fill="#a8a8a4" />
<rect x="682.85" y="343.00" width="1.50" height="3.50" rx="0" fill="#b4b4b0" />
<rect x="682.85" y="401.50" width="1.50" height="3.50" rx="0" fill="#a8a8a4" />
<rect x="634.00" y="390.65" width="5.00" height="1.50" rx="0" fill="#a8a8a4" />
<rect x="693.00" y="390.65" width="4.50" height="1.50" rx="0" fill="#a8a8a4" />
<rect x="685.80" y="343.00" width="1.50" height="3.50" rx="0" fill="#b4b4b0" />
<rect x="685.80" y="401.50" width="1.50" height="3.50" rx="0" fill="#a8a8a4" />
<rect x="634.00" y="393.70" width="5.00" height="1.50" rx="0" fill="#a8a8a4" />
<rect x="693.00" y="393.70" width="4.50" height="1.50" rx="0" fill="#a8a8a4" />
<rect x="688.75" y="343.00" width="1.50" height="3.50" rx="0" fill="#b4b4b0" />
<rect x="688.75" y="401.50" width="1.50" height="3.50" rx="0" fill="#a8a8a4" />
<rect x="634.00" y="396.75" width="5.00" height="1.50" rx="0" fill="#a8a8a4" />
<rect x="693.00" y="396.75" width="4.50" height="1.50" rx="0" fill="#a8a8a4" />
<rect x="639.50" y="346.50" width="54.00" height="55.50" rx="1.5" fill="#222222" />
<path d="M641,351 L641,347.5 L645,347.5" stroke="#888" stroke-width="0.8" fill="none"/>
<rect x="631.00" y="418.50" width="12.50" height="20.25" rx="1.6" fill="none" stroke="#d2d6da" stroke-width="1.1"/>
<rect x="633.00" y="420.00" width="8.50" height="4.57" rx="0.6" fill="#b4b4ae" />
<rect x="633.00" y="432.68" width="8.50" height="4.57" rx="0.6" fill="#b4b4ae" />
<rect x="633.00" y="424.57" width="8.50" height="8.10" rx="0" fill="#1a1a1a" />
<rect x="634.00" y="426.60" width="6.50" height="4.05" rx="0" fill="#8a8a8a" />
<rect x="643.50" y="418.50" width="11.50" height="20.25" rx="1.6" fill="none" stroke="#d2d6da" stroke-width="1.1"/>
<rect x="645.00" y="420.50" width="8.50" height="16.25" rx="1" fill="#2a2a2a" />
<rect x="646.00" y="422.95" width="6.50" height="11.34" rx="0.6" fill="#b89068" />
<rect x="646.00" y="422.95" width="6.50" height="1.50" rx="0" fill="#d8d0c0" />
<rect x="646.00" y="432.80" width="6.50" height="1.50" rx="0" fill="#d8d0c0" />
<rect x="655.00" y="418.50" width="12.00" height="20.25" rx="1.6" fill="none" stroke="#d2d6da" stroke-width="1.1"/>
<rect x="656.50" y="420.50" width="9.00" height="16.25" rx="1" fill="#2a2a2a" />
<rect x="657.50" y="422.95" width="7.00" height="11.34" rx="0.6" fill="#b89068" />
<rect x="657.50" y="422.95" width="7.00" height="1.50" rx="0" fill="#d8d0c0" />
<rect x="657.50" y="432.80" width="7.00" height="1.50" rx="0" fill="#d8d0c0" />
<rect x="667.00" y="418.50" width="12.00" height="20.25" rx="1.6" fill="none" stroke="#d2d6da" stroke-width="1.1"/>
<rect x="668.50" y="420.50" width="9.00" height="16.25" rx="1" fill="#2a2a2a" />
<rect x="669.50" y="422.95" width="7.00" height="11.34" rx="0.6" fill="#b89068" />
<rect x="669.50" y="422.95" width="7.00" height="1.50" rx="0" fill="#d8d0c0" />
<rect x="669.50" y="432.80" width="7.00" height="1.50" rx="0" fill="#d8d0c0" />
<rect x="679.00" y="418.50" width="12.00" height="20.25" rx="1.6" fill="none" stroke="#d2d6da" stroke-width="1.1"/>
<rect x="681.00" y="420.00" width="8.00" height="4.57" rx="0.6" fill="#b4b4ae" />
<rect x="681.00" y="432.68" width="8.00" height="4.57" rx="0.6" fill="#b4b4ae" />
<rect x="681.00" y="424.57" width="8.00" height="8.10" rx="0" fill="#1a1a1a" />
<rect x="682.00" y="426.60" width="6.00" height="4.05" rx="0" fill="#8a8a8a" />
<rect x="692.00" y="418.50" width="13.00" height="20.25" rx="1.6" fill="none" stroke="#d2d6da" stroke-width="1.1"/>
<rect x="694.00" y="420.00" width="9.00" height="4.57" rx="0.6" fill="#b4b4ae" />
<rect x="694.00" y="432.68" width="9.00" height="4.57" rx="0.6" fill="#b4b4ae" />
<rect x="694.00" y="424.57" width="9.00" height="8.10" rx="0" fill="#1a1a1a" />
<rect x="695.00" y="426.60" width="7.00" height="4.05" rx="0" fill="#8a8a8a" />
<rect x="597.50" y="423.60" width="12.90" height="22.40" rx="1.6" fill="none" stroke="#d2d6da" stroke-width="1.1"/>
<rect x="599.00" y="425.60" width="9.90" height="18.40" rx="1" fill="#2a2a2a" />
<rect x="600.00" y="428.53" width="7.90" height="12.54" rx="0.6" fill="#b89068" />
<rect x="600.00" y="428.53" width="7.90" height="1.50" rx="0" fill="#d8d0c0" />
<rect x="600.00" y="439.57" width="7.90" height="1.50" rx="0" fill="#d8d0c0" />
<rect x="612.00" y="416.00" width="18.00" height="36.00" rx="1.6" fill="none" stroke="#d2d6da" stroke-width="1.1"/>
<rect x="614.00" y="417.50" width="14.00" height="9.30" rx="0.6" fill="#b4b4ae" />
<rect x="614.00" y="441.20" width="14.00" height="9.30" rx="0.6" fill="#b4b4ae" />
<rect x="614.00" y="426.80" width="14.00" height="14.40" rx="0" fill="#1a1a1a" />
<rect x="615.00" y="430.40" width="12.00" height="7.20" rx="0" fill="#8a8a8a" />
<rect x="644.00" y="441.00" width="20.00" height="11.00" rx="1.6" fill="none" stroke="#d2d6da" stroke-width="1.1"/>
<rect x="646.00" y="442.50" width="16.00" height="8.00" rx="1" fill="#2a2a2a" />
<rect x="648.40" y="443.50" width="11.20" height="6.00" rx="0.6" fill="#b89068" />
<rect x="648.40" y="443.50" width="1.50" height="6.00" rx="0" fill="#d8d0c0" />
<rect x="658.10" y="443.50" width="1.50" height="6.00" rx="0" fill="#d8d0c0" />
<rect x="667.00" y="441.00" width="11.00" height="11.00" rx="1.5" fill="none" stroke="#d2d6da" stroke-width="1.1"/>
<rect x="669.00" y="443.00" width="7.00" height="7.00" rx="1" fill="#b8b8b4" />
<rect x="680.00" y="441.00" width="11.00" height="11.00" rx="1.5" fill="none" stroke="#d2d6da" stroke-width="1.1"/>
<rect x="682.00" y="443.00" width="7.00" height="7.00" rx="1" fill="#b8b8b4" />
<rect x="693.00" y="441.00" width="11.00" height="11.00" rx="1.5" fill="none" stroke="#d2d6da" stroke-width="1.1"/>
<rect x="695.00" y="443.00" width="7.00" height="7.00" rx="1" fill="#b8b8b4" />
<rect x="692.00" y="455.00" width="12.00" height="9.00" rx="1.5" fill="none" stroke="#d2d6da" stroke-width="1.1"/>
<rect x="694.00" y="457.00" width="8.00" height="5.00" rx="1" fill="#b8b8b4" />
<rect x="539.60" y="431.50" width="12.40" height="21.90" rx="1.6" fill="none" stroke="#d2d6da" stroke-width="1.1"/>
<rect x="541.10" y="433.50" width="9.40" height="17.90" rx="1" fill="#2a2a2a" />
<rect x="542.10" y="436.32" width="7.40" height="12.26" rx="0.6" fill="#b89068" />
<rect x="542.10" y="436.32" width="7.40" height="1.50" rx="0" fill="#d8d0c0" />
<rect x="542.10" y="447.08" width="7.40" height="1.50" rx="0" fill="#d8d0c0" />
<rect x="540.00" y="455.70" width="11.40" height="21.90" rx="1.6" fill="none" stroke="#d2d6da" stroke-width="1.1"/>
<rect x="542.00" y="457.20" width="7.40" height="5.07" rx="0.6" fill="#b4b4ae" />
<rect x="542.00" y="471.03" width="7.40" height="5.07" rx="0.6" fill="#b4b4ae" />
<rect x="542.00" y="462.27" width="7.40" height="8.76" rx="0" fill="#1a1a1a" />
<rect x="543.00" y="464.46" width="5.40" height="4.38" rx="0" fill="#8a8a8a" />
<rect x="554.75" y="435.00" width="41.05" height="18.00" rx="1.5" fill="none" stroke="#d2d6da" stroke-width="1.1"/>
<rect x="556.55" y="437.20" width="37.45" height="15.35" rx="1.2" fill="#8e8e88" />
<rect x="557.25" y="439.00" width="8.75" height="11.75" rx="1" fill="#b0b0aa" />
<rect x="586.00" y="439.00" width="7.30" height="11.75" rx="1" fill="#a4a49e" />
<rect x="566.00" y="438.00" width="20.00" height="13.75" rx="0.8" fill="#d8b070" />
<rect x="566.00" y="438.00" width="1.20" height="13.75" rx="0" fill="#e6d2a8" />
<rect x="584.80" y="438.00" width="1.20" height="13.75" rx="0" fill="#c49c60" />
<rect x="554.75" y="456.80" width="41.05" height="18.00" rx="1.5" fill="none" stroke="#d2d6da" stroke-width="1.1"/>
<rect x="556.55" y="459.20" width="37.45" height="15.30" rx="1.2" fill="#8e8e88" />
<rect x="557.25" y="461.00" width="6.50" height="11.70" rx="1" fill="#b0b0aa" />
<rect x="586.80" y="461.00" width="6.50" height="11.70" rx="1" fill="#a4a49e" />
<rect x="563.75" y="460.00" width="23.05" height="13.70" rx="0.8" fill="#d8b070" />
<rect x="563.75" y="460.00" width="1.20" height="13.70" rx="0" fill="#e6d2a8" />
<rect x="585.60" y="460.00" width="1.20" height="13.70" rx="0" fill="#c49c60" />
<path d="M556,483 L556,481.3 L596,481.3 L596,483 M556,502 L556,503.8 L601,503.8 L601,502" fill="none" stroke="#d2d6da" stroke-width="0.9"/>
<rect x="550.00" y="487.00" width="10.50" height="13.00" rx="1" fill="#8e8e8a" />
<rect x="551.50" y="489.00" width="7.50" height="9.00" rx="1" fill="#a8a8a4" />
<rect x="593.00" y="487.00" width="11.00" height="13.00" rx="1" fill="#666664" />
<rect x="560.00" y="482.50" width="33.50" height="21.50" rx="1" fill="#1e1e1e" />
<rect x="597.50" y="476.00" width="10.10" height="9.00" rx="1" fill="#7a7a78" />
<path d="M604.5,506 L604.5,453.5 L666,453.5 M666,506 L604.5,506" fill="none" stroke="#d2d6da" stroke-width="0.9"/>
<rect x="660.00" y="476.00" width="7.00" height="11.00" rx="1" fill="#9a9a98" />
<circle cx="636.7" cy="482" r="26.8" fill="#c8c8c6"/>
<circle cx="636.7" cy="482" r="25.3" fill="url(#capg)"/>
<clipPath id="c2"><rect x="600" y="440" width="29" height="80"/></clipPath>
<circle cx="636.7" cy="482" r="25.3" fill="#121212" clip-path="url(#c2)"/>
<g font-family="Liberation Sans" font-weight="normal" fill="#111" font-size="13.5" stroke="#111" stroke-width="0.4"><text x="631" y="478.2" textLength="13.5" lengthAdjust="spacingAndGlyphs">47</text><text x="631" y="489.9" textLength="20.6" lengthAdjust="spacingAndGlyphs">50V</text><text x="631" y="502.3" textLength="15" lengthAdjust="spacingAndGlyphs">VT</text></g>
<rect x="667.00" y="457.00" width="12.00" height="23.00" rx="1.6" fill="none" stroke="#d2d6da" stroke-width="1.1"/>
<rect x="669.00" y="458.50" width="8.00" height="5.40" rx="0.6" fill="#b4b4ae" />
<rect x="669.00" y="473.10" width="8.00" height="5.40" rx="0.6" fill="#b4b4ae" />
<rect x="669.00" y="463.90" width="8.00" height="9.20" rx="0" fill="#1a1a1a" />
<rect x="670.00" y="466.20" width="6.00" height="4.60" rx="0" fill="#8a8a8a" />
<rect x="667.00" y="482.00" width="12.00" height="23.00" rx="1.6" fill="none" stroke="#d2d6da" stroke-width="1.1"/>
<rect x="669.00" y="483.50" width="8.00" height="5.40" rx="0.6" fill="#b4b4ae" />
<rect x="669.00" y="498.10" width="8.00" height="5.40" rx="0.6" fill="#b4b4ae" />
<rect x="669.00" y="488.90" width="8.00" height="9.20" rx="0" fill="#1a1a1a" />
<rect x="670.00" y="491.20" width="6.00" height="4.60" rx="0" fill="#8a8a8a" />
<rect x="703.50" y="480.50" width="7.50" height="14.00" rx="1" fill="#4a4a4a" />
<rect x="681.25" y="468.00" width="22.75" height="39.00" rx="1.5" fill="#a8a294" />
<rect x="683.00" y="470.00" width="19.50" height="35.00" rx="1.2" fill="#e0d8ca" />
<rect x="690.00" y="472.00" width="11.00" height="31.00" rx="1" fill="#d2cabb" />
<rect x="683.50" y="484.00" width="4.50" height="8.00" rx="0" fill="#c4bcae" />
<rect x="549.00" y="508.80" width="47.40" height="19.70" rx="0" fill="#8a8a88" />
<rect x="550.00" y="510.00" width="45.00" height="3.00" rx="0" fill="#9e9e9c" />
<rect x="636.00" y="509.20" width="46.00" height="19.10" rx="0" fill="#8c8c8a" />
<rect x="637.00" y="510.00" width="44.00" height="3.00" rx="0" fill="#a0a09e" />
<line x1="531.7" y1="519" x2="546.3" y2="519" stroke="#d8d8d8" stroke-width="1.4"/>
<path d="M687.8,518.6 L701.2,518.6 M694.5,511.8 L694.5,525.4" stroke="#e4e4e4" stroke-width="1.4"/>
</g>
</svg>
</body></html>
